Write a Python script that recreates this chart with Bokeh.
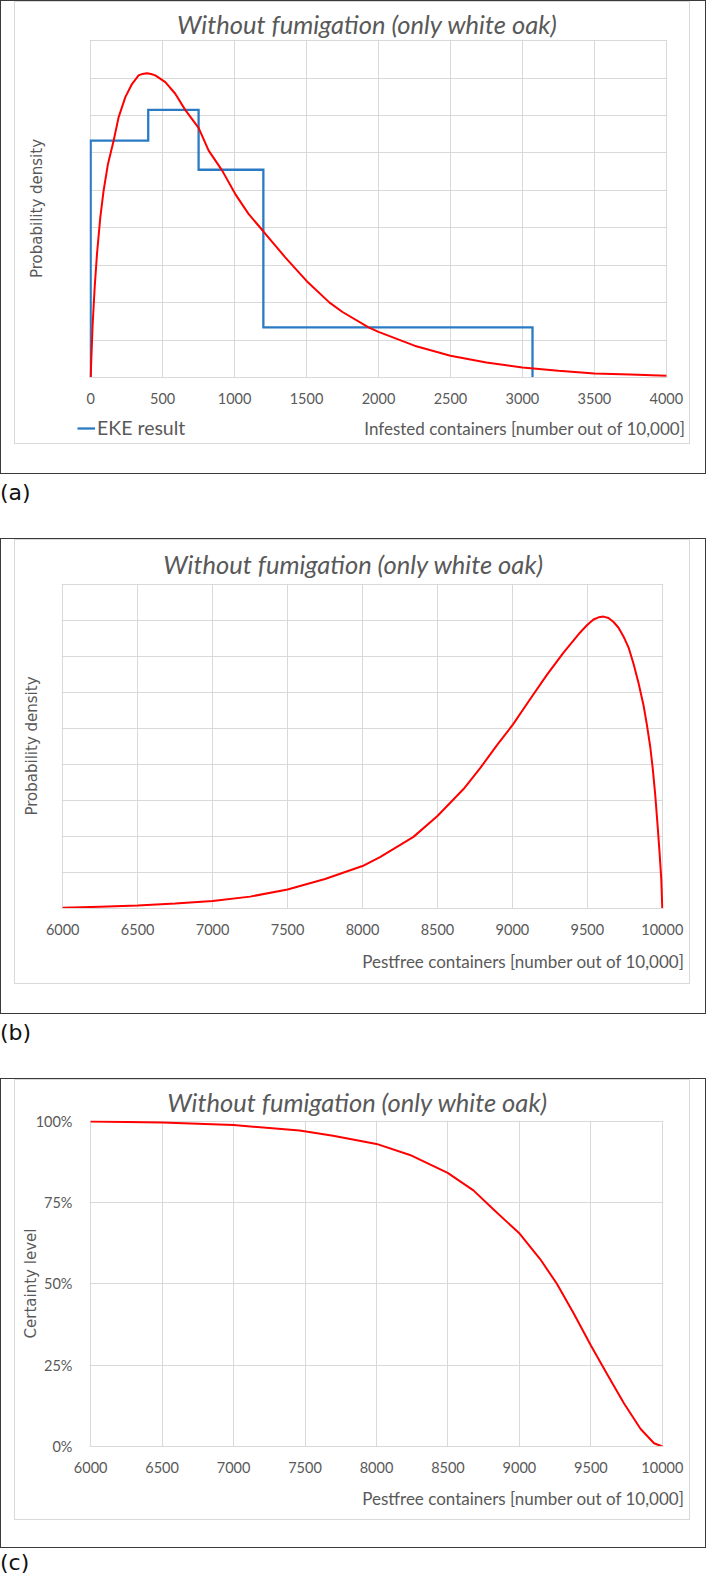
from bokeh.plotting import figure
from bokeh.models import (Range1d, FixedTicker, Title, Div, NumeralTickFormatter,
                          Legend, LegendItem, Label)
from bokeh.layouts import column
from bokeh.embed import file_html
from bokeh.resources import INLINE

# ---------------- data ----------------
TITLE = "Without fumigation (only white oak)"

# (a) infested containers: EKE result (4 quartile bins) and fitted density (x 1e-4)
infested_edges = [0, 400, 750, 1200, 3070]
eke_density = [6.33, 7.15, 5.55, 1.34]
infested_x = [0, 5, 14, 28, 44, 67, 90, 120, 160, 194, 241, 287, 333, 360, 391, 420,
              449, 519, 588, 657, 750, 820, 912, 1005, 1097, 1201, 1352, 1500, 1660,
              1750, 1931, 2000, 2250, 2500, 2750, 3000, 3250, 3500, 3750, 4000]
infested_density = [0, 0.53, 1.43, 2.41, 3.30, 4.28, 4.99, 5.70, 6.33, 6.95, 7.49,
                    7.84, 8.07, 8.11, 8.13, 8.11, 8.07, 7.89, 7.58, 7.15, 6.67, 6.06,
                    5.54, 4.90, 4.37, 3.90, 3.21, 2.58, 2.00, 1.75, 1.34, 1.22, 0.85,
                    0.58, 0.40, 0.27, 0.18, 0.11, 0.08, 0.05]
infested_ticks = [0, 500, 1000, 1500, 2000, 2500, 3000, 3500, 4000]

# (b) pestfree containers density (x 1e-4)
pestfree_x = [6000, 6250, 6500, 6750, 7000, 7250, 7500, 7750, 8000, 8117, 8340,
              8500, 8674, 8785, 8896, 9003, 9119, 9230, 9341, 9452, 9497, 9541,
              9575, 9608, 9641, 9675, 9708, 9741, 9775, 9808, 9841, 9875, 9897,
              9920, 9937, 9953, 9968, 9982, 9993, 10000]
pestfree_density = [0.02, 0.05, 0.08, 0.14, 0.21, 0.33, 0.53, 0.82, 1.18, 1.43,
                    1.99, 2.57, 3.32, 3.90, 4.53, 5.11, 5.82, 6.49, 7.11, 7.67,
                    7.87, 8.03, 8.09, 8.11, 8.07, 7.96, 7.80, 7.56, 7.25, 6.80,
                    6.27, 5.64, 5.11, 4.48, 3.86, 3.15, 2.34, 1.54, 0.83, 0]
pestfree_ticks = [6000, 6500, 7000, 7500, 8000, 8500, 9000, 9500, 10000]
density_grid = [0, 1, 2, 3, 4, 5, 6, 7, 8, 9]

# (c) certainty level
certainty_x = [6000, 6500, 7000, 7462, 7696, 8000, 8234, 8498, 8678, 8819, 9001,
               9146, 9263, 9380, 9501, 9614, 9731, 9848, 9942, 10000]
certainty = [1.000, 0.997, 0.989, 0.972, 0.956, 0.931, 0.897, 0.842, 0.788, 0.729,
             0.655, 0.576, 0.500, 0.409, 0.310, 0.222, 0.133, 0.054, 0.010, 0.0]
certainty_ticks = [0, 0.25, 0.5, 0.75, 1.0]

# ---------------- style ----------------
FW = 674
GRID = "#d9d9d9"
TXT = "#595959"
RED = "#ff0000"
BLUE = "#2b7bc4"
FONT = "Lato"
YFONT = "DejaVu Sans"
BOX = {"outline": "1.5px solid #3a3a3a", "outline-offset": "-1.5px"}
INNER = {"outline": "1px solid #d9d9d9"}


def pad(lo, hi, frac):
    d = (hi - lo) * frac
    return lo - d, hi + d


def safe_set(obj, name, val, fallback=None):
    try:
        setattr(obj, name, val)
    except Exception:
        if fallback is not None:
            try:
                setattr(obj, name, fallback)
            except Exception:
                pass


def base_fig(h, xr, yr, left, right, top, bottom, margin=None, styles=None):
    kw = {}
    if margin is not None:
        kw["margin"] = margin
    if styles is not None:
        kw["styles"] = styles
    p = figure(width=FW, height=h, x_range=Range1d(*xr), y_range=Range1d(*yr),
               output_backend="svg", toolbar_location=None, title=None,
               min_border_left=left, min_border_right=FW - right,
               min_border_top=top, min_border_bottom=h - bottom, **kw)
    p.outline_line_color = None
    p.background_fill_color = "white"
    p.border_fill_color = "white"
    return p


def style_x(p, ticks):
    t = FixedTicker(ticks=ticks)
    p.xaxis.ticker = t
    p.xgrid.ticker = t
    p.xgrid.grid_line_color = GRID
    p.xaxis.axis_line_color = GRID
    p.xaxis.major_tick_out = 0
    p.xaxis.major_tick_in = 0
    p.xaxis.minor_tick_line_color = None
    p.xaxis.major_tick_line_color = None
    p.xaxis.major_label_standoff = 15
    p.xaxis.major_label_text_font = FONT
    p.xaxis.major_label_text_font_size = "14.5px"
    p.xaxis.major_label_text_color = TXT


def x_title(p, text, offset, standoff):
    t = Title(text=text, align="right", offset=offset,
              text_font=FONT, text_font_size="17px",
              text_font_style="normal", text_color=TXT)
    safe_set(t, "standoff", standoff, 0)
    p.add_layout(t, "below")


def style_y(p, ticks, ytitle, show, label_standoff):
    p.ygrid.ticker = FixedTicker(ticks=ticks)
    p.ygrid.grid_line_color = GRID
    p.yaxis.ticker = FixedTicker(ticks=ticks if show else [])
    p.yaxis.axis_line_color = None
    p.yaxis.major_tick_line_color = None
    p.yaxis.minor_tick_line_color = None
    p.yaxis.major_tick_out = 0
    p.yaxis.major_tick_in = 0
    p.yaxis.axis_label = ytitle
    safe_set(p.yaxis[0], "axis_label_standoff", label_standoff, 0)
    p.yaxis.axis_label_text_font = YFONT
    p.yaxis.axis_label_text_font_size = "15px"
    p.yaxis.axis_label_text_font_style = "normal"
    p.yaxis.axis_label_text_color = TXT
    p.yaxis.major_label_standoff = 17
    p.yaxis.major_label_text_font = FONT
    p.yaxis.major_label_text_font_size = "14.5px"
    p.yaxis.major_label_text_color = TXT


def main_title(p, offset, standoff):
    p.add_layout(Title(text=TITLE, align="left", offset=offset, standoff=standoff,
                       text_font=FONT, text_font_size="25.5px",
                       text_font_style="italic", text_color=TXT), "above")


def tag_div(tag, div_h, line_h):
    return Div(text=tag, width=80, height=div_h, margin=(0, 0, 0, 0),
               styles={"font-family": "DejaVu Sans", "font-size": "22px",
                       "line-height": f"{line_h}px", "color": "#111111"})


# ---------------- panel (a) ----------------
pa = base_fig(410, pad(0, 4000, 0.002), (0, 9.03), 74, 652, 37, 375)
safe_set(pa, "frame_align", False)
main_title(pa, 87.5, 2)
style_x(pa, infested_ticks)
style_y(pa, density_grid, "Probability density", False, 44)

step_x = [infested_edges[0]]
step_y = [0]
for i, h in enumerate(eke_density):
    step_x += [infested_edges[i], infested_edges[i + 1]]
    step_y += [h, h]
step_x.append(infested_edges[-1])
step_y.append(0)

pa.line(step_x, step_y, line_color=BLUE, line_width=2.3, line_join="miter")
pa.line(infested_x, infested_density, line_color=RED, line_width=2)

# legend row (legend + x-axis title) of panel (a)
LH = 31
pl = figure(width=FW, height=LH, x_range=Range1d(0, FW), y_range=Range1d(0, LH),
            output_backend="svg", toolbar_location=None, title=None,
            x_axis_type=None, y_axis_type=None,
            min_border_left=0, min_border_right=0, min_border_top=0,
            min_border_bottom=0)
safe_set(pl, "frame_align", False)
pl.outline_line_color = None
pl.background_fill_color = "white"
pl.border_fill_color = "white"
# key renderer: the EKE series on a range that keeps it out of this strip
pl.extra_y_ranges = {"key": Range1d(1000, 1000 + LH)}
r_key = pl.line(step_x, step_y, line_color=BLUE, line_width=2.3, y_range_name="key")
legend = Legend(items=[LegendItem(label="EKE result", renderers=[r_key])],
                location=(62, 4), orientation="horizontal",
                background_fill_alpha=0, border_line_color=None, padding=0,
                margin=0, spacing=0, label_text_font=FONT,
                label_text_font_size="19.5px", label_text_color=TXT,
                glyph_width=18, glyph_height=20, label_height=20,
                label_standoff=2)
pl.add_layout(legend, "center")
pl.add_layout(Label(x=670, y=LH - 16, text="Infested containers [number out of 10,000]",
                    text_align="right", text_baseline="middle", text_font=FONT,
                    text_font_size="17px", text_color=TXT))

inner_a = column(pa, pl, spacing=0, margin=(2, 17, 31, 15), styles=INNER)
box_a = column(inner_a, spacing=0, styles=BOX)

# ---------------- panel (b) ----------------
pb = base_fig(443, pad(6000, 10000, 0.002), (0, 9.03), 46, 648, 43, 381,
              (2, 17, 31, 15), INNER)
main_title(pb, 101.7, 10)
style_x(pb, pestfree_ticks)
x_title(pb, "Pestfree containers [number out of 10,000]", -21, 23)
style_y(pb, density_grid, "Probability density", False, 21)
pb.line(pestfree_x, pestfree_density, line_color=RED, line_width=2)
box_b = column(pb, spacing=0, styles=BOX)

# ---------------- panel (c) ----------------
pc = base_fig(439, pad(6000, 10000, 0.002), (0, 1.003), 74, 648, 40, 378,
              (2, 17, 29, 15), INNER)
main_title(pc, 77.7, 7)
style_x(pc, pestfree_ticks)
x_title(pc, "Pestfree containers [number out of 10,000]", -21, 21)
style_y(pc, certainty_ticks, "Certainty level", True, -7)
pc.yaxis.formatter = NumeralTickFormatter(format="0%")
pc.line(certainty_x, certainty, line_color=RED, line_width=2)
box_c = column(pc, spacing=0, styles=BOX)

layout = column(box_a, tag_div("(a)", 64, 38), box_b, tag_div("(b)", 64, 38),
                box_c, tag_div("(c)", 28, 30), spacing=0)
open("out.html", "w").write(file_html(layout, INLINE))
